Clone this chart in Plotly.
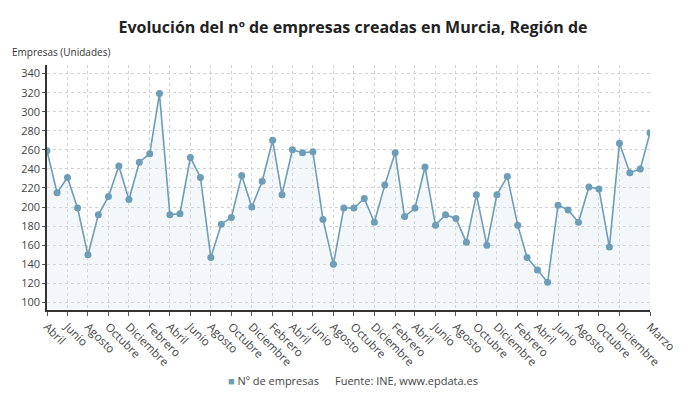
import plotly.graph_objects as go

# monthly series, April 2019 .. March 2024
months = [f"{2019 + (3 + i) // 12}-{(3 + i) % 12 + 1:02d}-01" for i in range(60)]
empresas = [
    259, 215, 231, 199, 150, 192, 211, 243, 208, 247, 256, 319,
    192, 193, 252, 231, 147, 182, 189, 233, 200, 227, 270, 213,
    260, 257, 258, 187, 140, 199, 199, 209, 184, 223, 257, 190,
    199, 242, 181, 192, 188, 163, 213, 160, 213, 232, 181, 147,
    134, 121, 202, 197, 184, 221, 219, 158, 267, 236, 240, 278,
]

month_names = {
    1: "Enero", 2: "Febrero", 3: "Marzo", 4: "Abril", 5: "Mayo", 6: "Junio",
    7: "Julio", 8: "Agosto", 9: "Septiembre", 10: "Octubre", 11: "Noviembre", 12: "Diciembre",
}
tick_vals = months[0:57:2] + [months[-1]]
tick_text = [month_names[int(m[5:7])] for m in tick_vals]

line_color = "#6d9db7"
font_family = "Open Sans"

fig = go.Figure()

fig.add_trace(
    go.Scatter(
        x=months,
        y=empresas,
        mode="lines+markers",
        line={"color": line_color, "width": 1.6},
        marker={"color": line_color, "size": 7},
        fill="tozeroy",
        fillcolor="rgba(220, 232, 242, 0.35)",
        showlegend=False,
        name="Nº de empresas",
    )
)

# the page body adds an 8px offset, margins account for it
fig.update_layout(
    width=690,
    height=406,
    margin={"l": 39, "r": 48, "t": 57, "b": 104},
    paper_bgcolor="white",
    plot_bgcolor="white",
    font={"family": font_family, "color": "#333", "size": 11},
    showlegend=False,
    title={
        "text": "<b>Evolución del nº de empresas creadas en Murcia, Región de</b>",
        "x": 0.5,
        "xanchor": "center",
        "y": 0.953,
        "yanchor": "middle",
        "font": {"size": 16, "color": "#222", "family": font_family},
    },
    annotations=[
        {
            "text": "Empresas (Unidades)",
            "xref": "paper",
            "yref": "paper",
            "x": -0.061,
            "y": 1.053,
            "xanchor": "left",
            "yanchor": "middle",
            "showarrow": False,
            "font": {"size": 10, "color": "#333"},
        },
        {
            "text": f"<span style='color:{line_color}'>■</span> Nº de empresas",
            "xref": "paper",
            "yref": "paper",
            "x": 0.297,
            "y": -0.286,
            "xanchor": "left",
            "yanchor": "middle",
            "showarrow": False,
            "font": {"size": 11, "color": "#444"},
        },
        {
            "text": "Fuente: INE, www.epdata.es",
            "xref": "paper",
            "yref": "paper",
            "x": 0.474,
            "y": -0.286,
            "xanchor": "left",
            "yanchor": "middle",
            "showarrow": False,
            "font": {"size": 11, "color": "#444"},
        },
    ],
)

fig.update_xaxes(
    range=[months[0], months[-1]],
    automargin=False,
    tickmode="array",
    tickvals=tick_vals,
    ticktext=tick_text,
    tickangle=45,
    showline=True,
    linecolor="#333",
    linewidth=1.5,
    ticks="outside",
    ticklen=4,
    tickcolor="#555",
    showgrid=True,
    gridcolor="#d2d2d2",
    griddash="dot",
    gridwidth=1,
    tickfont={"size": 11.5, "color": "#444"},
)

fig.update_yaxes(
    range=[92, 349],
    automargin=False,
    tickmode="array",
    tickvals=list(range(100, 341, 20)),
    showline=True,
    linecolor="#333",
    linewidth=1.5,
    ticks="outside",
    ticklen=3,
    tickcolor="#555",
    showgrid=True,
    gridcolor="#d2d2d2",
    griddash="dot",
    gridwidth=1,
    zeroline=False,
    tickfont={"size": 11, "color": "#444"},
)

fig.write_html("out.html")
